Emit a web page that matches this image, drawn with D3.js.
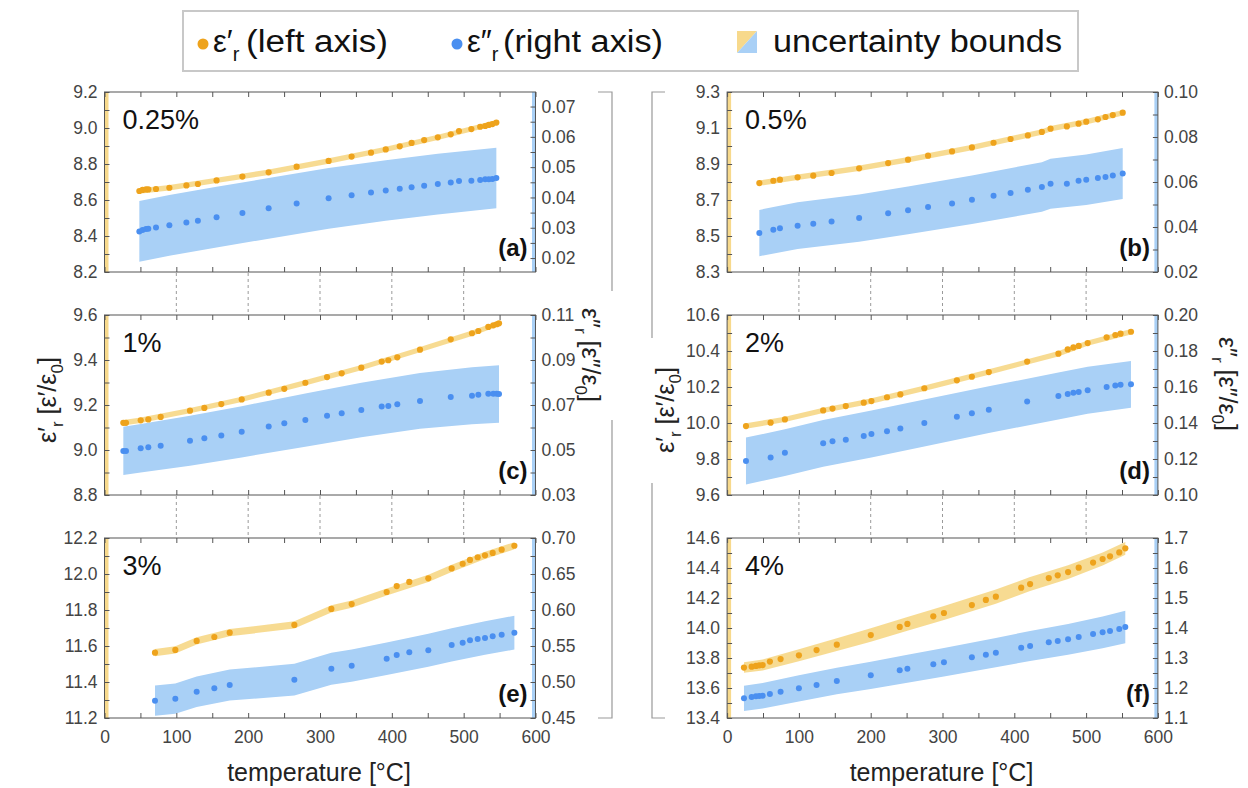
<!DOCTYPE html>
<html><head><meta charset="utf-8">
<script src="https://cdn.jsdelivr.net/npm/d3@7"></script>
<style>
body{margin:0;background:#fff}
svg{display:block}
text{font-family:"Liberation Sans",Arial,Helvetica,sans-serif}
</style>
</head><body>
<svg id="chart" width="1248" height="788"></svg>
<script>
// ---------- data: (a) 0.25 % ----------
const temp_a = [48.5,53,57.8,61,71.7,90.3,114,130,156,192,228.5,267.5,312,344,371,391.5,411,427.5,445,464,482,493.5,510.7,523,530,535,540,545.5];
const epsRe_a = [8.650,8.656,8.659,8.659,8.661,8.668,8.681,8.689,8.709,8.730,8.754,8.785,8.817,8.841,8.863,8.881,8.898,8.917,8.933,8.948,8.965,8.983,8.994,9.007,9.011,9.017,9.022,9.030];
const epsIm_a = [0.0288,0.0293,0.0296,0.0297,0.0301,0.0308,0.0317,0.0323,0.0335,0.0349,0.0364,0.0380,0.0397,0.0407,0.0416,0.0423,0.0429,0.0434,0.0439,0.0444,0.0449,0.0454,0.0455,0.0458,0.0460,0.0460,0.0461,0.0464];
const bandT_a = [48.5,90.3,156,228.5,312,391.5,464,545.5];
const reLo_a = [8.635,8.653,8.694,8.739,8.802,8.866,8.933,9.015];
const reHi_a = [8.665,8.683,8.724,8.769,8.832,8.896,8.963,9.045];
const imLo_a = [0.0188,0.0208,0.0235,0.0264,0.0297,0.0323,0.0344,0.0364];
const imHi_a = [0.0388,0.0408,0.0435,0.0464,0.0497,0.0523,0.0544,0.0564];

// ---------- data: (b) 0.5 % ----------
const temp_b = [44.9,64.4,73.6,98.2,120,145.5,183.9,224.3,252,279.9,313.3,341,371.1,394.8,418.9,438.4,450.5,473.2,489.5,500.2,516.4,527,537.2,551];
const epsRe_b = [8.794,8.807,8.813,8.826,8.835,8.850,8.876,8.905,8.924,8.946,8.970,8.992,9.018,9.039,9.059,9.078,9.096,9.109,9.124,9.135,9.148,9.161,9.172,9.185];
const epsIm_b = [0.0373,0.0388,0.0394,0.0406,0.0415,0.0425,0.0440,0.0461,0.0474,0.0489,0.0505,0.0521,0.0539,0.0551,0.0566,0.0578,0.0592,0.0592,0.0606,0.0610,0.0618,0.0622,0.0629,0.0638];
const bandT_b = [44.9,98.2,183.9,252,341,438.4,450.5,500.2,551];
const reLo_b = [8.779,8.811,8.861,8.909,8.977,9.063,9.081,9.120,9.170];
const reHi_b = [8.809,8.841,8.891,8.939,9.007,9.093,9.111,9.150,9.200];
const imLo_b = [0.0270,0.0302,0.0335,0.0368,0.0413,0.0468,0.0481,0.0498,0.0525];
const imHi_b = [0.0476,0.0510,0.0545,0.0580,0.0629,0.0688,0.0703,0.0722,0.0751];

// ---------- data: (c) 1 % ----------
const temp_c = [26.2,29.9,50.4,61,78.2,119,139,162.6,191,228.6,250.3,279.6,309.8,330.2,357.5,385.9,395.1,407.6,439.2,482,511.6,520.4,534.3,541.3,546,549.2];
const epsRe_c = [9.121,9.121,9.132,9.136,9.147,9.175,9.187,9.204,9.225,9.255,9.272,9.299,9.324,9.341,9.366,9.393,9.399,9.412,9.446,9.492,9.519,9.529,9.547,9.554,9.559,9.563];
const epsIm_c = [0.0496,0.0496,0.0508,0.0512,0.0519,0.0541,0.0552,0.0565,0.0581,0.0604,0.0619,0.0633,0.0652,0.0663,0.0678,0.0693,0.0696,0.0703,0.0718,0.0736,0.0741,0.0746,0.0750,0.0750,0.0750,0.0749];
const bandT_c = [26.2,50.4,119,191,279.6,357.5,439.2,511.6,549.2];
const reLo_c = [9.109,9.120,9.163,9.213,9.287,9.354,9.434,9.507,9.551];
const reHi_c = [9.133,9.144,9.187,9.237,9.311,9.378,9.458,9.531,9.575];
const imLo_c = [0.0389,0.0400,0.0430,0.0467,0.0515,0.0557,0.0594,0.0614,0.0621];
const imHi_c = [0.0603,0.0616,0.0652,0.0695,0.0751,0.0799,0.0842,0.0868,0.0877];

// ---------- data: (d) 2 % ----------
const temp_d = [26.3,60.6,80.5,133.8,146.8,165.3,190.3,201,222.7,241.3,274.7,320,340.9,364.5,417.9,461.4,474.4,482.3,489.7,502.2,528.6,540.7,548,562.5];
const epsRe_d = [9.983,10.002,10.020,10.070,10.080,10.094,10.113,10.122,10.143,10.159,10.193,10.237,10.257,10.283,10.341,10.385,10.409,10.420,10.428,10.444,10.476,10.489,10.496,10.507];
const epsIm_d = [0.1189,0.1209,0.1235,0.1287,0.1298,0.1307,0.1328,0.1339,0.1354,0.1370,0.1400,0.1435,0.1454,0.1474,0.1519,0.1550,0.1561,0.1568,0.1572,0.1582,0.1600,0.1609,0.1613,0.1615];
const bandT_d = [26.3,80.5,133.8,201,274.7,364.5,461.4,502.2,562.5];
const reLo_d = [9.968,10.005,10.055,10.107,10.178,10.268,10.370,10.429,10.492];
const reHi_d = [9.998,10.035,10.085,10.137,10.208,10.298,10.400,10.459,10.522];
const imLo_d = [0.1059,0.1105,0.1157,0.1209,0.1270,0.1344,0.1420,0.1452,0.1485];
const imHi_d = [0.1319,0.1365,0.1417,0.1469,0.1530,0.1604,0.1680,0.1712,0.1745];

// ---------- data: (e) 3 % ----------
const temp_e = [70.3,98.6,128.3,152.9,174.3,264.3,315.8,344.1,392.8,406.8,424.3,450.8,483.3,498.6,508.8,519.5,529.7,540.4,552.9,570.6];
const epsRe_e = [11.563,11.578,11.628,11.650,11.674,11.717,11.806,11.833,11.900,11.933,11.956,11.976,12.031,12.057,12.078,12.093,12.104,12.117,12.135,12.157];
const epsIm_e = [0.4740,0.4768,0.4865,0.4912,0.4958,0.5032,0.5185,0.5226,0.5324,0.5375,0.5412,0.5440,0.5514,0.5546,0.5579,0.5597,0.5611,0.5634,0.5657,0.5685];
const bandT_e = [70.3,98.6,128.3,174.3,264.3,315.8,344.1,392.8,450.8,483.3,529.7,570.6];
const reLo_e = [11.543,11.558,11.608,11.654,11.697,11.786,11.813,11.880,11.956,12.011,12.084,12.137];
const reHi_e = [11.583,11.598,11.648,11.694,11.737,11.826,11.853,11.920,11.996,12.051,12.124,12.177];
const imLo_e = [0.4530,0.4558,0.4653,0.4743,0.4812,0.4963,0.5002,0.5098,0.5211,0.5283,0.5378,0.5450];
const imHi_e = [0.4950,0.4978,0.5077,0.5173,0.5252,0.5407,0.5450,0.5550,0.5669,0.5745,0.5844,0.5920];

// ---------- data: (f) 4 % ----------
const temp_f = [23.5,34.2,40.2,44.8,49.5,59.6,74.5,100,124.6,152.8,200.1,240.4,251.1,287.2,302,340.9,360.4,374.3,409.6,422,448,460.5,474.9,489.7,509.7,523,533.3,546.2,554.6];
const epsRe_f = [13.736,13.742,13.747,13.751,13.753,13.776,13.793,13.818,13.853,13.889,13.953,14.007,14.027,14.078,14.100,14.153,14.187,14.209,14.269,14.293,14.333,14.351,14.373,14.402,14.436,14.460,14.478,14.504,14.531];
const epsIm_f = [1.1656,1.1700,1.1722,1.1733,1.1744,1.1800,1.1878,1.1989,1.2100,1.2233,1.2422,1.2589,1.2644,1.2789,1.2856,1.3022,1.3111,1.3178,1.3344,1.3400,1.3522,1.3567,1.3622,1.3700,1.3800,1.3856,1.3900,1.3967,1.4033];
const bandT_f = [23.5,49.5,100,152.8,200.1,251.1,302,374.3,422,474.9,523,554.6];
const reLo_f = [13.701,13.716,13.778,13.846,13.908,13.981,14.053,14.162,14.246,14.327,14.416,14.489];
const reHi_f = [13.771,13.790,13.858,13.932,13.998,14.073,14.147,14.256,14.340,14.419,14.504,14.573];
const imLo_f = [1.1236,1.1319,1.1554,1.1788,1.1967,1.2179,1.2381,1.2688,1.2900,1.3107,1.3326,1.3493];
const imHi_f = [1.2076,1.2169,1.2424,1.2678,1.2877,1.3109,1.3331,1.3668,1.3900,1.4137,1.4386,1.4573];

// ---------- axis labels ----------
const concentrations = ["0.25%","0.5%","1%","2%","3%","4%"];
const panelLetters = ["(a)","(b)","(c)","(d)","(e)","(f)"];
const xTickLabels = [0,100,200,300,400,500,600];
const leftTicks_a = [8.2,8.4,8.6,8.8,9.0,9.2];
const rightTicks_a = [0.02,0.03,0.04,0.05,0.06,0.07];
const leftTicks_b = [8.3,8.5,8.7,8.9,9.1,9.3];
const rightTicks_b = [0.02,0.04,0.06,0.08,0.10];
const leftTicks_c = [8.8,9.0,9.2,9.4,9.6];
const rightTicks_c = [0.03,0.05,0.07,0.09,0.11];
const leftTicks_d = [9.6,9.8,10.0,10.2,10.4,10.6];
const rightTicks_d = [0.10,0.12,0.14,0.16,0.18,0.20];
const leftTicks_e = [11.2,11.4,11.6,11.8,12.0,12.2];
const rightTicks_e = [0.45,0.50,0.55,0.60,0.65,0.70];
const leftTicks_f = [13.4,13.6,13.8,14.0,14.2,14.4,14.6];
const rightTicks_f = [1.1,1.2,1.3,1.4,1.5,1.6,1.7];

// ---------- layout / style ----------
const C_ORANGE = "#eea31c", C_BLUE = "#4a8ff0";
const C_OBAND = "#f7d98c", C_BBAND = "#a9d0f6";
const colX = [[104.5,535.5],[727.1,1157.9]];
const rowY = [92,315,538];
const PH = 180;

const panels = [
  {col:0,row:0,T:temp_a,re:epsRe_a,im:epsIm_a,bT:bandT_a,reLo:reLo_a,reHi:reHi_a,imLo:imLo_a,imHi:imHi_a,yL:[8.2,9.2],yR:[0.0154,0.0748],lt:leftTicks_a,rt:rightTicks_a,lMinor:0.1,rMinor:0.005,rFmt:".2f"},
  {col:1,row:0,T:temp_b,re:epsRe_b,im:epsIm_b,bT:bandT_b,reLo:reLo_b,reHi:reHi_b,imLo:imLo_b,imHi:imHi_b,yL:[8.3,9.3],yR:[0.02,0.10],lt:leftTicks_b,rt:rightTicks_b,lMinor:0.1,rMinor:0.01,rFmt:".2f"},
  {col:0,row:1,T:temp_c,re:epsRe_c,im:epsIm_c,bT:bandT_c,reLo:reLo_c,reHi:reHi_c,imLo:imLo_c,imHi:imHi_c,yL:[8.8,9.6],yR:[0.03,0.11],lt:leftTicks_c,rt:rightTicks_c,lMinor:0.1,rMinor:0.01,rFmt:".2f"},
  {col:1,row:1,T:temp_d,re:epsRe_d,im:epsIm_d,bT:bandT_d,reLo:reLo_d,reHi:reHi_d,imLo:imLo_d,imHi:imHi_d,yL:[9.6,10.6],yR:[0.10,0.20],lt:leftTicks_d,rt:rightTicks_d,lMinor:0.1,rMinor:0.01,rFmt:".2f"},
  {col:0,row:2,T:temp_e,re:epsRe_e,im:epsIm_e,bT:bandT_e,reLo:reLo_e,reHi:reHi_e,imLo:imLo_e,imHi:imHi_e,yL:[11.2,12.2],yR:[0.45,0.70],lt:leftTicks_e,rt:rightTicks_e,lMinor:0.1,rMinor:0.025,rFmt:".2f"},
  {col:1,row:2,T:temp_f,re:epsRe_f,im:epsIm_f,bT:bandT_f,reLo:reLo_f,reHi:reHi_f,imLo:imLo_f,imHi:imHi_f,yL:[13.4,14.6],yR:[1.1,1.7],lt:leftTicks_f,rt:rightTicks_f,lMinor:0.1,rMinor:0.05,rFmt:".1f"}
];

const svg = d3.select("#chart");
svg.append("rect").attr("width",1248).attr("height",788).attr("fill","#fff");

function minorTicks(dom, step){
  const out=[]; const start=Math.ceil(dom[0]/step-1e-6);
  for(let k=start;k*step<=dom[1]+1e-9;k++){ out.push(+(k*step).toFixed(6)); }
  return out;
}
function styleAxis(g){
  g.select(".domain").remove();
  g.selectAll(".tick line").attr("stroke","#555").attr("stroke-width",1);
  g.selectAll(".tick text").attr("fill","#444").style("font-size","17.5px").style("font-family","'Liberation Sans',Arial,sans-serif");
}

// dashed guide lines in gaps between panels
[0,1].forEach(col=>{
  const x = d3.scaleLinear().domain([0,600]).range(colX[col]);
  [[rowY[0]+PH,rowY[1]],[rowY[1]+PH,rowY[2]]].forEach(([y0,y1])=>{
    svg.append("g").selectAll("line").data([100,200,300,400,500]).join("line")
      .attr("x1",d=>x(d)).attr("x2",d=>x(d)).attr("y1",y0+1).attr("y2",y1-1)
      .attr("stroke","#9a9a9a").attr("stroke-width",1).attr("stroke-dasharray","3,3");
  });
});

panels.forEach((p,i)=>{
  const [x0,x1] = colX[p.col];
  const y0 = rowY[p.row], y1 = y0+PH;
  const x = d3.scaleLinear().domain([0,600]).range([x0,x1]);
  const yL = d3.scaleLinear().domain(p.yL).range([y1,y0]);
  const yR = d3.scaleLinear().domain(p.yR).range([y1,y0]);
  const g = svg.append("g");

  // coloured axis strips
  g.append("rect").attr("x",x0).attr("y",y0).attr("width",4).attr("height",PH).attr("fill",C_OBAND);
  g.append("rect").attr("x",x1-3.5).attr("y",y0).attr("width",3.5).attr("height",PH).attr("fill",C_BBAND);

  // uncertainty bands
  const idx = d3.range(p.bT.length);
  g.append("path").datum(idx)
    .attr("d", d3.area().x(k=>x(p.bT[k])).y0(k=>yR(p.imLo[k])).y1(k=>yR(p.imHi[k])).curve(d3.curveLinear))
    .attr("fill",C_BBAND);
  g.append("path").datum(idx)
    .attr("d", d3.area().x(k=>x(p.bT[k])).y0(k=>yL(p.reLo[k])).y1(k=>yL(p.reHi[k])).curve(d3.curveLinear))
    .attr("fill",C_OBAND).attr("opacity",0.95);

  // points
  const pi = d3.range(p.T.length);
  g.append("g").selectAll("circle").data(pi).join("circle")
    .attr("cx",k=>x(p.T[k])).attr("cy",k=>yR(p.im[k])).attr("r",3).attr("fill",C_BLUE);
  g.append("g").selectAll("circle").data(pi).join("circle")
    .attr("cx",k=>x(p.T[k])).attr("cy",k=>yL(p.re[k])).attr("r",3.1).attr("fill",C_ORANGE);

  // axes (inward ticks)
  const xt = minorTicks([0,600],50);
  const bottomLabels = p.row===2;
  const axB = d3.axisBottom(x).tickValues(xt).tickSizeInner(-5).tickSizeOuter(0).tickPadding(13)
    .tickFormat(d=> bottomLabels && xTickLabels.includes(d) ? String(d) : "");
  styleAxis(g.append("g").attr("transform",`translate(0,${y1})`).call(axB));
  const axT = d3.axisTop(x).tickValues(xt).tickSizeInner(-5).tickSizeOuter(0).tickFormat("");
  styleAxis(g.append("g").attr("transform",`translate(0,${y0})`).call(axT));

  const ltAll = minorTicks(p.yL,p.lMinor);
  const lSet = p.lt.map(v=>v.toFixed(3));
  const axL = d3.axisLeft(yL).tickValues(ltAll).tickSizeInner(-5).tickSizeOuter(0).tickPadding(7)
    .tickFormat(d=> lSet.includes(d.toFixed(3)) ? d3.format(".1f")(d) : "");
  styleAxis(g.append("g").attr("transform",`translate(${x0},0)`).call(axL));

  const rtAll = minorTicks(p.yR,p.rMinor);
  const rSet = p.rt.map(v=>v.toFixed(4));
  const axR = d3.axisRight(yR).tickValues(rtAll).tickSizeInner(-5).tickSizeOuter(0).tickPadding(6)
    .tickFormat(d=> rSet.includes(d.toFixed(4)) ? d3.format(p.rFmt)(d) : "");
  styleAxis(g.append("g").attr("transform",`translate(${x1},0)`).call(axR));

  // frame
  g.append("rect").attr("x",x0).attr("y",y0).attr("width",x1-x0).attr("height",PH)
    .attr("fill","none").attr("stroke","#555").attr("stroke-width",1);

  // panel texts
  g.append("text").attr("x",x0+18).attr("y",y0+37).text(concentrations[i])
    .style("font-size","27px").attr("fill","#111");
  g.append("text").attr("x",x1-8).attr("y",y1-16).attr("text-anchor","end").text(panelLetters[i])
    .style("font-size","24px").style("font-weight","bold").attr("fill","#111");
});

// x axis titles
[0,1].forEach(col=>{
  svg.append("text").attr("x",(colX[col][0]+colX[col][1])/2-1).attr("y",781).attr("text-anchor","middle")
    .text("temperature [°C]").style("font-size","25px").attr("fill","#222");
});

// y axis titles
function yTitle(cx,cy,rot,prime){
  const t = svg.append("text").attr("transform",`translate(${cx},${cy}) rotate(${rot})`)
    .attr("text-anchor","middle").style("font-size","25px").attr("fill","#222");
  t.append("tspan").text("ε"+prime);
  t.append("tspan").text("r").attr("dy",7).style("font-size","17px");
  t.append("tspan").text(" [ε"+prime+"/ε").attr("dy",-7);
  t.append("tspan").text("0").attr("dy",7).style("font-size","17px");
  t.append("tspan").text("]").attr("dy",-7);
}
yTitle(56,400,-90,"′");
yTitle(674,410,-90,"′");
yTitle(582,355,90,"″");
yTitle(1219,384,90,"″");

// brackets for the shared titles
const br = svg.append("g").attr("fill","none").attr("stroke","#999").attr("stroke-width",1.2);
br.append("path").attr("d","M598,92 H612 V291");
br.append("path").attr("d","M612,420 V718 H598");
br.append("path").attr("d","M665,92 H652 V338");
br.append("path").attr("d","M652,483 V718 H665");

// legend
const lg = svg.append("g");
lg.append("rect").attr("x",183).attr("y",11).attr("width",895).attr("height",60)
  .attr("fill","#fff").attr("stroke","#c8c8c8").attr("stroke-width",2);
lg.append("circle").attr("cx",203).attr("cy",44).attr("r",5.5).attr("fill",C_ORANGE);
const l1 = lg.append("text").attr("x",213).attr("y",52).style("font-size","31px").attr("fill","#111");
l1.append("tspan").text("ε′");
l1.append("tspan").text("r").attr("dy",9).style("font-size","20px");
lg.append("text").attr("x",246).attr("y",52).text("(left axis)").style("font-size","31px").attr("fill","#111")
  .attr("textLength",142).attr("lengthAdjust","spacingAndGlyphs");
lg.append("circle").attr("cx",457).attr("cy",44).attr("r",5.5).attr("fill",C_BLUE);
const l2 = lg.append("text").attr("x",467).attr("y",52).style("font-size","31px").attr("fill","#111");
l2.append("tspan").text("ε″");
l2.append("tspan").text("r").attr("dy",9).style("font-size","20px");
lg.append("text").attr("x",503).attr("y",52).text("(right axis)").style("font-size","31px").attr("fill","#111")
  .attr("textLength",160).attr("lengthAdjust","spacingAndGlyphs");
lg.append("path").attr("d","M737,31 H757 L737,53 Z").attr("fill",C_OBAND);
lg.append("path").attr("d","M757,31 V53 H737 Z").attr("fill",C_BBAND);
lg.append("text").attr("x",773).attr("y",52).text("uncertainty bounds").style("font-size","31px").attr("fill","#111")
  .attr("textLength",289).attr("lengthAdjust","spacingAndGlyphs");
</script>
</body></html>
